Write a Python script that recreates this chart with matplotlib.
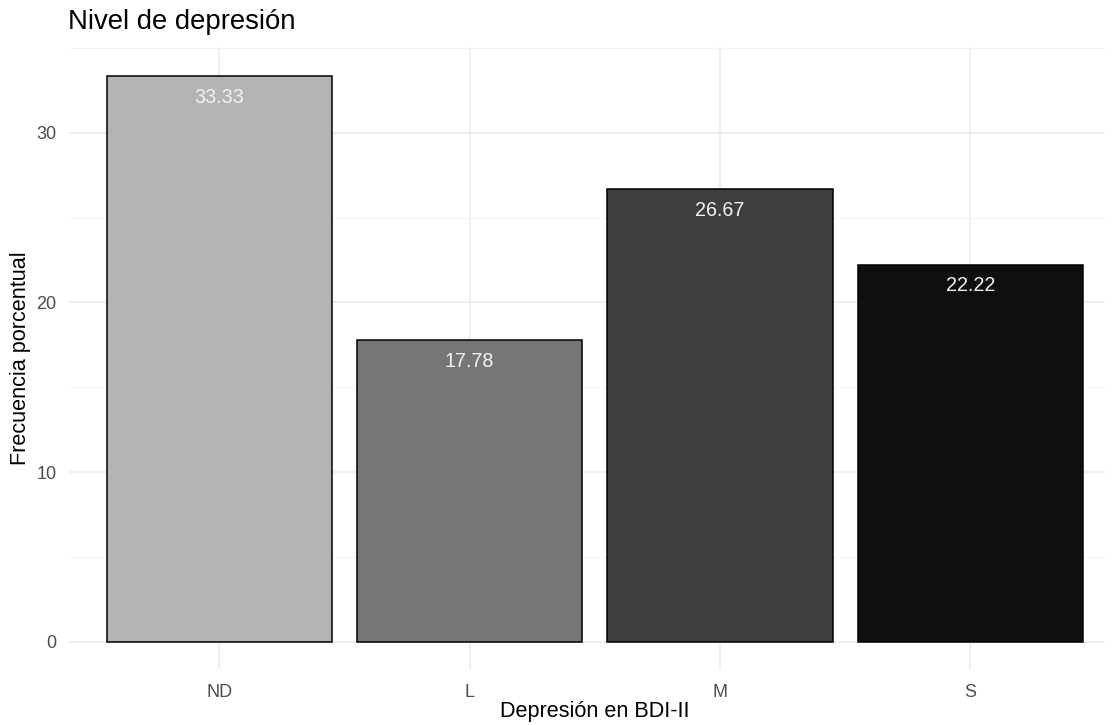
import matplotlib
matplotlib.use("Agg")
import matplotlib.pyplot as plt
from matplotlib.ticker import MultipleLocator

plt.rcParams['font.family'] = ['Liberation Sans', 'DejaVu Sans']

categories = ["ND", "L", "M", "S"]
values = [33.33, 17.78, 26.67, 22.22]
colors = ["#B3B3B3", "#767676", "#3E3E3E", "#0F0F0F"]
value_labels = ["33.33", "17.78", "26.67", "22.22"]

W, H = 1115, 725
fig = plt.figure(figsize=(W / 100, H / 100), dpi=100)
left, right, top, bottom = 69, 1105, 47, 670
ax = fig.add_axes([left / W, 1 - bottom / H, (right - left) / W, (bottom - top) / H])

x = list(range(1, len(categories) + 1))
ax.bar(x, values, width=0.9, color=colors, edgecolor="black", linewidth=1.1, zorder=3)

for xi, v, lab in zip(x, values, value_labels):
    ax.annotate(lab, (xi, v), xytext=(0, -21), textcoords="offset pixels",
                ha="center", va="center", color="#F2F2F2", fontsize=14.2, zorder=4)

ax.set_xlim(0.4, 0.4 + (right - left) / 250.33)
ax.set_ylim(-1.667, 35.05)
ax.set_xticks(x)
ax.set_xticklabels(categories)
ax.yaxis.set_major_locator(MultipleLocator(10))
ax.yaxis.set_minor_locator(MultipleLocator(5))

ax.grid(which="major", color="#EBEBEB", linewidth=1.1, zorder=0)
ax.grid(which="minor", axis="y", color="#F2F2F2", linewidth=0.6, zorder=0)
ax.set_axisbelow(True)
for s in ax.spines.values():
    s.set_visible(False)
ax.tick_params(axis="both", which="both", length=0, colors="#4D4D4D", labelsize=13)
ax.tick_params(axis="x", pad=10)
ax.tick_params(axis="y", pad=9)

fig.text(595 / W, 1 - 712 / H, "Depresión en BDI-II", fontsize=15.6, color="black",
         ha="center", va="center")
ax.set_ylabel("Frecuencia porcentual", fontsize=15.6, color="black", labelpad=4)
fig.text(68 / W, 1 - 22 / H, "Nivel de depresión", fontsize=19.8, color="black",
         ha="left", va="center")

fig.savefig("out.png", dpi=100)
